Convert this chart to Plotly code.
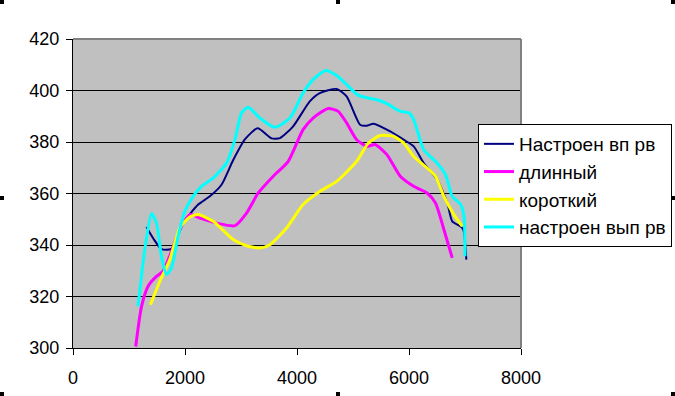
import plotly.graph_objects as go

# Настроен вп рв
navy_x = [1311, 1450, 1580, 1758, 1967, 2235, 2444, 2652, 2861, 3069, 3296, 3546, 3695, 3928, 4228, 4407, 4707, 4886, 5126, 5245, 5365, 5665, 5904, 6084, 6263, 6503, 6683, 6772, 6922, 6970, 7024]
navy_y = [347, 342, 338.4, 338.5, 348.5, 355.7, 358.9, 363.4, 373, 381, 385.3, 381.4, 381.5, 386, 395.8, 399, 400.6, 397.7, 386.7, 386.3, 387.1, 384.1, 380.9, 378.3, 371.8, 365.4, 356.3, 349.2, 347.2, 346, 334.3]

# длинный
mag_x = [1120, 1222, 1341, 1490, 1609, 1758, 1907, 2086, 2265, 2563, 2891, 3099, 3308, 3576, 3844, 4108, 4287, 4557, 4736, 4886, 5066, 5245, 5395, 5605, 5844, 6084, 6323, 6473, 6623, 6772]
mag_y = [300.6, 316, 324, 327.8, 329.8, 337.5, 346, 351.8, 350.5, 348.5, 347.5, 352.4, 360.2, 366.7, 372.5, 384.8, 389.3, 393, 391.9, 387.4, 380.9, 378.3, 379, 375.1, 366.7, 362.8, 360.2, 356.3, 346, 335]

# короткий
yel_x = [1383, 1550, 1728, 1907, 2086, 2235, 2503, 2861, 3099, 3338, 3516, 3814, 4108, 4407, 4707, 5066, 5275, 5485, 5724, 5904, 6084, 6323, 6473, 6623, 6802, 6952]
yel_y = [316.8, 325.9, 334.3, 346.6, 350.9, 351.8, 349.2, 342.1, 339.7, 338.8, 340.1, 346.6, 355.7, 360.8, 364.7, 372.5, 379.6, 382.5, 382.2, 379.6, 374.4, 369.9, 366.7, 358.9, 351.8, 347.2]

# настроен вып рв
cyan_x = [1162, 1282, 1401, 1490, 1580, 1669, 1758, 1877, 1997, 2146, 2295, 2503, 2742, 2891, 3010, 3129, 3338, 3606, 3874, 4108, 4287, 4515, 4707, 4886, 5096, 5425, 5605, 5844, 5994, 6084, 6263, 6473, 6653, 6772, 6922, 6982, 7000]
cyan_y = [316.2, 338.2, 352.2, 348.5, 335.6, 328.5, 331.1, 343.4, 353.1, 358.9, 362.8, 366, 371.8, 380.9, 391.3, 393.5, 389.3, 385.7, 389.3, 399, 404.2, 407.8, 405.8, 402.3, 398.1, 396.4, 394.9, 391.9, 391.3, 388.7, 377, 372.5, 367.3, 358.9, 355.7, 351.1, 335.6]

names = ["Настроен вп рв", "длинный", "короткий", "настроен вып рв"]
colors = ["#000080", "#ff00ff", "#ffff00", "#00ffff"]
widths = [2, 3, 3, 3]
xs = [navy_x, mag_x, yel_x, cyan_x]
ys = [navy_y, mag_y, yel_y, cyan_y]

x_ticks = [0, 2000, 4000, 6000, 8000]
y_ticks = [300, 320, 340, 360, 380, 400, 420]

fig = go.Figure()
for n, c, w, x, y in zip(names, colors, widths, xs, ys):
    fig.add_trace(go.Scatter(x=x, y=y, name=n, mode="lines",
                             line=dict(color=c, width=w, shape="spline", smoothing=0.6)))

FAM = "Liberation Sans, Arial, sans-serif"
font = dict(family=FAM, size=18, color="black")

fig.update_layout(
    width=675, height=396,
    margin=dict(l=73, r=154, t=39, b=48, autoexpand=False),
    paper_bgcolor="white",
    plot_bgcolor="#c0c0c0",
    font=font,
    showlegend=True,
    legend=dict(xref="container", yref="container",
                x=478 / 675, xanchor="left", y=1 - 124 / 396, yanchor="top",
                bgcolor="white", bordercolor="black", borderwidth=1,
                font=dict(family=FAM, size=19, color="black"),
                itemwidth=30),
    xaxis=dict(range=[0, 8000], tickvals=x_ticks, ticks="outside", ticklen=6,
               tickcolor="black", showgrid=False, zeroline=False, ticklabelstandoff=7,
               showline=True, linecolor="black", linewidth=1, tickfont=font),
    yaxis=dict(range=[300, 420], tickvals=y_ticks, ticks="outside", ticklen=6,
               tickcolor="black", showgrid=True, gridcolor="black", gridwidth=1,
               zeroline=False, showline=True, linecolor="black", linewidth=1,
               ticklabelstandoff=3, tickfont=font),
)

# top and right gray border of plot area
fig.add_shape(type="line", xref="paper", yref="paper", x0=0, x1=1, y0=1, y1=1,
              line=dict(color="#808080", width=2))
fig.add_shape(type="line", xref="paper", yref="paper", x0=1, x1=1, y0=0, y1=1,
              line=dict(color="#808080", width=2))

# selection handles (pixel positions of chart frame corners)
handles = [(0, 0), (336, 0), (671, 0), (0, 392), (336, 392), (671, 392), (0, 196), (671, 196)]
for px, py in handles:
    fig.add_shape(type="rect", xref="paper", yref="paper",
                  x0=(px - 73) / 448, x1=(px + 4 - 73) / 448,
                  y0=(396 - 48 - py - 4) / 309, y1=(396 - 48 - py) / 309,
                  fillcolor="black", line=dict(width=0))

fig.write_html("out.html")
